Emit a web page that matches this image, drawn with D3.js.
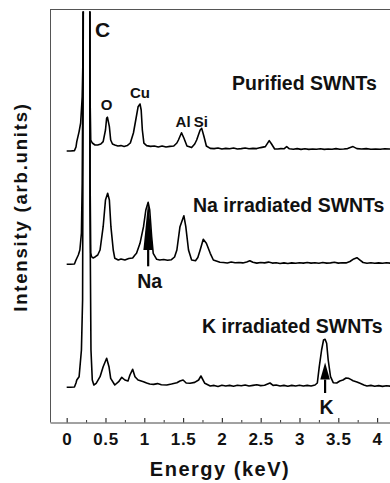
<!DOCTYPE html>
<html><head><meta charset="utf-8">
<script src="https://cdn.jsdelivr.net/npm/d3@7/dist/d3.min.js"></script>
<style>
html,body{margin:0;padding:0;background:#fff;}
svg{display:block;font-family:"Liberation Sans",Arial,Helvetica,sans-serif;font-weight:bold;}
</style></head>
<body>
<svg id="chart" width="390" height="483"></svg>
<script>
// ---- data (energy keV, intensity arb. units above each spectrum's baseline) ----
const seriesNames = ["Purified SWNTs", "Na irradiated SWNTs", "K irradiated SWNTs"];
const seriesOffsets = [137.5, 80.25, 18.5];

const purified = [
[0.00,-1.5],[0.05,-1.5],[0.10,-1.3],[0.12,0.5],[0.13,3.2],[0.16,8.2],[0.18,12.5],[0.20,25.5],[0.21,45.5],
[0.215,80],[0.26,100],[0.297,80],[0.302,24],[0.31,4],[0.33,2.5],[0.365,1.5],[0.40,1.5],[0.44,2],
[0.47,3.2],[0.50,9],[0.515,15],[0.525,15.4],[0.55,10.7],[0.567,4],[0.59,2],[0.62,1.5],[0.66,1],
[0.70,1.2],[0.74,0.8],[0.78,1.2],[0.82,2.5],[0.86,7.5],[0.89,14],[0.92,20.6],[0.945,22],[0.96,19],
[0.975,9],[0.995,2.4],[1.03,1.2],[1.08,0.8],[1.13,1],[1.18,0.5],[1.23,1],[1.28,0.5],[1.33,0.8],
[1.38,1],[1.42,2.5],[1.44,4],[1.48,7.6],[1.51,5],[1.55,1],[1.61,0.2],[1.65,2],[1.675,4],[1.72,9],
[1.74,9.8],[1.77,5.6],[1.80,1],[1.85,-0.2],[1.90,-0.3],[1.95,0],[2.00,-0.5],[2.05,-0.2],[2.10,-0.4],
[2.15,0],[2.20,-0.5],[2.25,-0.3],[2.30,0],[2.35,-0.4],[2.40,-0.2],[2.45,-0.3],[2.50,0.2],[2.56,0.7],
[2.61,3.7],[2.64,2],[2.68,-0.5],[2.72,-0.5],[2.76,-0.3],[2.80,-0.4],[2.835,0.7],[2.87,-0.4],[2.92,-0.6],
[2.97,-0.3],[3.02,-0.7],[3.07,-0.4],[3.12,-0.7],[3.17,-0.5],[3.22,-0.6],[3.27,-0.4],[3.32,-0.7],
[3.37,-0.5],[3.42,-0.6],[3.47,-0.3],[3.52,-0.6],[3.57,-0.5],[3.62,-0.3],[3.69,0.7],[3.74,-0.3],
[3.80,-0.5],[3.86,-0.3],[3.92,-0.6],[3.98,-0.5],[4.04,-0.6],[4.10,-0.4],[4.16,-0.5],[4.22,-0.6],[4.28,-0.5]
];

const naIrradiated = [
[0.00,-0.9],[0.05,-0.9],[0.10,-0.75],[0.12,1.25],[0.15,3.75],[0.17,6.25],[0.19,14.75],[0.20,39.75],
[0.215,135],[0.26,170],[0.297,135],[0.302,40],[0.31,4.75],[0.32,2.9],[0.34,2.25],[0.37,2.9],[0.40,3.75],
[0.43,6.25],[0.47,17.9],[0.50,31.25],[0.528,34.6],[0.55,31.25],[0.57,17.9],[0.60,6.25],[0.62,2.1],
[0.665,1.25],[0.70,1.75],[0.75,1.25],[0.80,2],[0.85,2.25],[0.88,3.75],[0.90,4.6],[0.945,9.6],[0.99,17.9],
[1.02,26.25],[1.05,30.1],[1.07,26.25],[1.095,12.9],[1.115,4.6],[1.16,1.6],[1.20,1.25],[1.25,1.5],
[1.30,1.1],[1.35,1.4],[1.39,2.75],[1.42,6.25],[1.46,17.9],[1.51,23.4],[1.535,17.9],[1.57,6.25],
[1.61,1.25],[1.66,0.9],[1.69,2.5],[1.72,6.25],[1.76,11.6],[1.80,9.6],[1.85,4.6],[1.89,1.25],[1.975,0.1],
[2.02,0],[2.07,-0.25],[2.12,0.25],[2.17,-0.1],[2.22,0],[2.27,-0.2],[2.32,0.3],[2.36,0.9],[2.40,0.1],
[2.45,-0.3],[2.50,0],[2.55,-0.2],[2.60,0.2],[2.65,-0.3],[2.70,-0.1],[2.75,-0.5],[2.80,-0.2],[2.85,-0.5],
[2.90,-0.2],[2.95,-0.4],[3.00,-0.1],[3.05,-0.3],[3.10,0],[3.15,-0.3],[3.20,-0.1],[3.25,-0.4],[3.30,0],
[3.35,-0.3],[3.40,-0.2],[3.45,0.1],[3.50,-0.3],[3.55,-0.1],[3.60,-0.2],[3.65,0.5],[3.70,1.8],[3.74,2.4],
[3.78,1.2],[3.82,0],[3.87,-0.4],[3.92,-0.1],[3.97,-0.4],[4.02,-0.2],[4.07,-0.4],[4.12,-0.1],[4.17,-0.3],
[4.22,-0.2],[4.28,-0.3]
];

const kIrradiated = [
[0.00,-0.65],[0.05,-0.65],[0.10,-0.5],[0.12,1.5],[0.13,3],[0.16,4.65],[0.19,18],[0.205,43],
[0.215,200],[0.26,240],[0.298,200],[0.300,90],[0.313,18],[0.33,3],[0.35,0.5],[0.38,1.35],[0.43,4.65],
[0.47,9.65],[0.515,13.85],[0.545,9.65],[0.567,3.85],[0.62,0.5],[0.67,2.15],[0.71,4.35],[0.75,3],
[0.79,2.5],[0.815,5.5],[0.85,8.35],[0.88,4.65],[0.92,3],[0.99,2.15],[1.03,1.5],[1.07,1],[1.12,0.8],
[1.17,1.2],[1.22,0.6],[1.29,0.5],[1.35,1],[1.42,1.65],[1.46,2.5],[1.50,3],[1.54,1.5],[1.59,1.35],
[1.65,1.8],[1.70,3],[1.73,5],[1.78,1.35],[1.85,0],[1.90,0.3],[1.95,-0.2],[2.00,0.4],[2.05,0],[2.10,0.3],
[2.15,-0.1],[2.20,0.4],[2.25,0.1],[2.30,0.5],[2.35,0],[2.40,0.3],[2.45,0.6],[2.50,0.2],[2.55,0.4],
[2.62,1.5],[2.66,0.3],[2.70,0.5],[2.75,0],[2.80,0.3],[2.85,-0.1],[2.90,0.3],[2.95,0],[3.00,0.4],[3.05,0],
[3.10,0.3],[3.15,0],[3.20,0.5],[3.23,1.5],[3.255,9.65],[3.285,18],[3.31,23],[3.33,23.35],[3.35,21.35],
[3.37,13],[3.40,4.65],[3.435,1.65],[3.48,1.5],[3.52,2.5],[3.56,3],[3.60,4],[3.63,3.85],[3.66,3.3],
[3.69,2.65],[3.74,2],[3.78,1.35],[3.83,0.5],[3.87,0],[3.92,0.3],[3.97,-0.1],[4.02,0.2],[4.07,-0.2],
[4.12,0.1],[4.17,-0.1],[4.22,0.2],[4.28,0]
];

const xTickValues = [0, 0.5, 1, 1.5, 2, 2.5, 3, 3.5, 4];
const xTickLabels = ["0", "0.5", "1", "1.5", "2", "2.5", "3", "3.5", "4"];
const xMinorTicks = [0.25, 0.75, 1.25, 1.75, 2.25, 2.75, 3.25, 3.75, 4.25];

const peakLabels = ["C", "O", "Cu", "Al", "Si"];
const peakEnergies = [0.365, 0.515, 0.945, 1.50, 1.73];
const peakLabelValues = [192.9, 156.5, 162.4, 148.2, 148.2];

const arrowLabels = ["Na", "K"];
const arrowEnergies = [1.05, 3.33];
const arrowSeries = [1, 2];

// ---- layout ----
const svg = d3.select("#chart");
const mLeft = 50, mTop = 9, mBottom = 422.5;
const x = d3.scaleLinear().domain([-0.215, 4.3]).range([mLeft, mLeft + 4.515 * 77.6]);
const y = d3.scaleLinear().domain([0, 207]).range([423, 9]);

svg.append("defs").append("clipPath").attr("id", "plotclip")
  .append("rect").attr("x", mLeft).attr("y", 11.5).attr("width", 400).attr("height", mBottom - 11.5);

// frame
svg.append("line").attr("x1", mLeft).attr("x2", 390).attr("y1", mTop + 0.5).attr("y2", mTop + 0.5)
  .attr("stroke", "#555").attr("stroke-width", 1);
svg.append("line").attr("x1", mLeft + 0.5).attr("x2", mLeft + 0.5).attr("y1", mTop).attr("y2", mBottom)
  .attr("stroke", "#555").attr("stroke-width", 1);

// axes
const xAxis = d3.axisBottom(x).tickValues(xTickValues)
  .tickFormat((d, i) => xTickLabels[i]).tickSizeInner(-4.5).tickSizeOuter(0).tickPadding(10.5);
const gx = svg.append("g").attr("transform", `translate(0,${mBottom})`).call(xAxis);
gx.select(".domain").attr("stroke", "#444");
gx.selectAll(".tick line").attr("stroke", "#333").attr("stroke-width", 1.2);
gx.selectAll(".tick text").attr("font-size", 17).attr("font-weight", "bold")
  .attr("fill", "#111").attr("letter-spacing", 0.6)
  .attr("font-family", '"Liberation Sans",Arial,sans-serif');

const xMinor = d3.axisBottom(x).tickValues(xMinorTicks).tickFormat("").tickSizeInner(-2.5).tickSizeOuter(0);
const gm = svg.append("g").attr("transform", `translate(0,${mBottom})`).call(xMinor);
gm.select(".domain").remove();
gm.selectAll(".tick line").attr("stroke", "#333");

// axis titles
svg.append("text").attr("x", 220).attr("y", 475.5).attr("text-anchor", "middle")
  .attr("font-size", 20).attr("letter-spacing", 1.5).attr("fill", "#111").text("Energy (keV)");
svg.append("text").attr("transform", "translate(27,207) rotate(-90)").attr("text-anchor", "middle")
  .attr("font-size", 18.5).attr("letter-spacing", 1.8).attr("fill", "#111").text("Intensity (arb.units)");

// spectra
const allSeries = [purified, naIrradiated, kIrradiated];
const line = d3.line().x(d => x(d[0])).y(d => y(d[1]));
const plot = svg.append("g").attr("clip-path", "url(#plotclip)");
allSeries.forEach((s, i) => {
  const off = seriesOffsets[i];
  plot.append("path")
    .datum(s.map(d => [d[0], d[1] + off]))
    .attr("d", line).attr("fill", "none").attr("stroke", "#000")
    .attr("stroke-width", 1.6).attr("stroke-linejoin", "round");
});

// series labels
const seriesLabelX = [232, 193, 202];
const seriesLabelY = [90, 211.7, 333];
seriesNames.forEach((n, i) => {
  svg.append("text").attr("x", seriesLabelX[i]).attr("y", seriesLabelY[i])
    .attr("font-size", 19.5).attr("fill", "#111").text(n);
});

// peak labels (purified spectrum)
peakLabels.forEach((lab, i) => {
  const big = lab === "C";
  svg.append("text").attr("x", x(peakEnergies[i])).attr("y", y(peakLabelValues[i]))
    .attr("text-anchor", big ? "start" : "middle")
    .attr("font-size", big ? 21 : 15).attr("fill", "#111").text(lab);
});

// arrows
const arrowTip = [30.4, 11.8];
const arrowHeadBase = [6.25, 3.2];
const arrowTail = [-1.9, -3.5];
const arrowText = [-9.6, -10.8];
arrowEnergies.forEach((e, i) => {
  const off = seriesOffsets[arrowSeries[i]];
  const ax = x(e);
  const yt = y(off + arrowTip[i]), yb = y(off + arrowHeadBase[i]), ys = y(off + arrowTail[i]);
  svg.append("line").attr("x1", ax).attr("x2", ax).attr("y1", yb).attr("y2", ys)
    .attr("stroke", "#000").attr("stroke-width", 2.2);
  svg.append("path").attr("d", `M${ax},${yt}L${ax - 4.8},${yb}L${ax + 4.8},${yb}Z`).attr("fill", "#000");
  svg.append("text").attr("x", ax + 1.5).attr("y", y(off + arrowText[i]) + 6.5)
    .attr("text-anchor", "middle").attr("font-size", 19.5).attr("fill", "#111").text(arrowLabels[i]);
});
</script>
</body></html>
